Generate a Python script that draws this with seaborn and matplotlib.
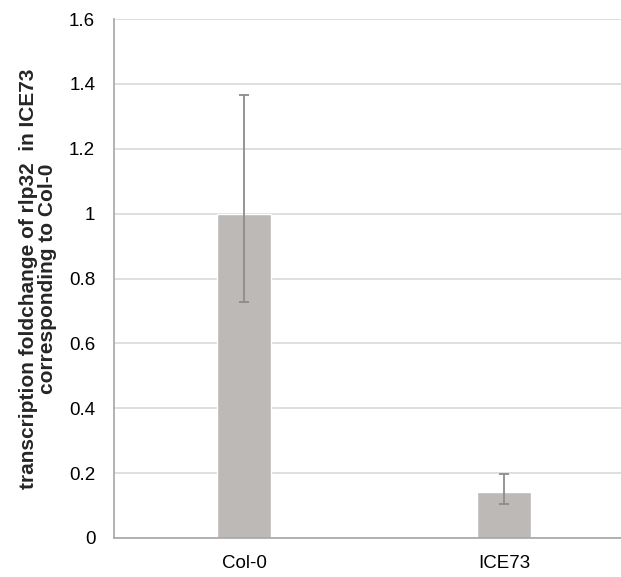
import numpy as np
import pandas as pd
import matplotlib
matplotlib.use("Agg")
import matplotlib.pyplot as plt
import seaborn as sns

genotypes = ["Col-0", "ICE73"]
foldchange = [1.0, 0.143]
err_low = [0.727, 0.105]
err_high = [1.367, 0.196]

sns.set_theme(style="white")
plt.rcParams["font.family"] = ["Liberation Sans", "DejaVu Sans"]

df = pd.DataFrame({"genotype": genotypes, "foldchange": foldchange})

W, H = 621, 577
fig = plt.figure(figsize=(W / 100, H / 100), dpi=100)
ax = fig.add_axes([114 / W, (H - 538) / H, (634 - 114) / W, (538 - 19) / H])

sns.barplot(data=df, x="genotype", y="foldchange", color="#BDB9B7",
            width=0.21, saturation=1, ax=ax, zorder=2)

yerr = np.array([np.array(foldchange) - np.array(err_low),
                 np.array(err_high) - np.array(foldchange)])
ax.errorbar(range(len(genotypes)), foldchange, yerr=yerr, fmt="none",
            ecolor="#8C8C8C", elinewidth=1.3, capsize=3.6, capthick=1.3, zorder=3)

ax.set_xlim(-0.5, 1.5)
ax.set_ylim(0, 1.6)
ax.set_yticks(np.arange(0, 1.61, 0.2))
ax.set_yticklabels(["0", "0.2", "0.4", "0.6", "0.8", "1", "1.2", "1.4", "1.6"])
ax.yaxis.grid(True, color="#D9D9D9", linewidth=1.2, zorder=0)
ax.set_axisbelow(True)
ax.tick_params(axis="both", labelsize=13.5, length=0, colors="#000000")
ax.tick_params(axis="y", pad=13.5)
ax.tick_params(axis="x", pad=12.5)

for side in ["top", "right"]:
    ax.spines[side].set_visible(False)
for side in ["left", "bottom"]:
    ax.spines[side].set_color("#A6A6A6")
    ax.spines[side].set_linewidth(1.2)

ax.set_xlabel("")
ax.set_ylabel("transcription foldchange of rlp32  in ICE73\ncorresponding to Col-0",
              fontsize=15, fontweight="bold", linespacing=1.0)
ax.yaxis.set_label_coords(-57 / 520, 0.5)

fig.savefig("out.png", dpi=100)
